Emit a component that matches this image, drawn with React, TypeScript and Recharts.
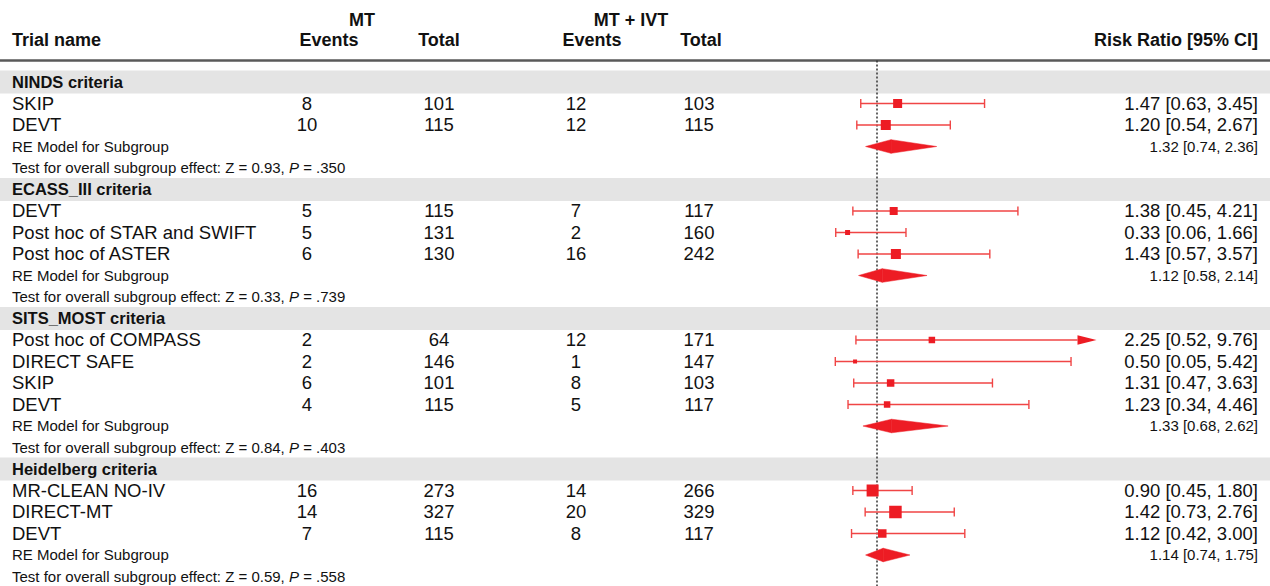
import React from 'react';
import { ComposedChart, XAxis, YAxis, Scatter, ReferenceLine, ReferenceArea } from 'recharts';

// subgroups and the trials inside them
const groupNames = ['NINDS criteria', 'ECASS_III criteria', 'SITS_MOST criteria', 'Heidelberg criteria'];
const studyGroup = [0, 0, 1, 1, 1, 2, 2, 2, 2, 3, 3, 3];
const studyNames = [
  'SKIP', 'DEVT',
  'DEVT', 'Post hoc of STAR and SWIFT', 'Post hoc of ASTER',
  'Post hoc of COMPASS', 'DIRECT SAFE', 'SKIP', 'DEVT',
  'MR-CLEAN NO-IV', 'DIRECT-MT', 'DEVT',
];
const mtEvents = [8, 10, 5, 5, 6, 2, 2, 6, 4, 16, 14, 7];
const mtTotal = [101, 115, 115, 131, 130, 64, 146, 101, 115, 273, 327, 115];
const ivtEvents = [12, 12, 7, 2, 16, 12, 1, 8, 5, 14, 20, 8];
const ivtTotal = [103, 115, 117, 160, 242, 171, 147, 103, 117, 266, 329, 117];
const rr = [1.47, 1.2, 1.38, 0.33, 1.43, 2.25, 0.5, 1.31, 1.23, 0.9, 1.42, 1.12];
const rrLow = [0.63, 0.54, 0.45, 0.06, 0.57, 0.52, 0.05, 0.47, 0.34, 0.45, 0.73, 0.42];
const rrHigh = [3.45, 2.67, 4.21, 1.66, 3.57, 9.76, 5.42, 3.63, 4.46, 1.8, 2.76, 3.0];
// relative study weight (largest = 1), sets the square size
const studyWeight = [0.72, 0.8, 0.64, 0.4, 0.8, 0.52, 0.32, 0.6, 0.52, 0.96, 1.0, 0.68];

// random-effects pooled estimate per subgroup
const pooledRR = [1.32, 1.12, 1.33, 1.14];
const pooledLow = [0.74, 0.58, 0.68, 0.74];
const pooledHigh = [2.36, 2.14, 2.62, 1.75];
const testZ = ['0.93', '0.33', '0.84', '0.59'];
const testP = ['.350', '.739', '.403', '.558'];

const W = 1270;
const H = 586;
const FONT = '"Liberation Sans", Arial, Helvetica, sans-serif';
const RED = '#ed1c24';
const CI_RED = '#f04545';

// 1 unit of RR = 43.9px with RR 0 at x=833; one table row = 21.5px, first row centred at y=82
const X_DOMAIN: [number, number] = [-833.1 / 43.9, (W - 833.1) / 43.9];
const Y_DOMAIN: [number, number] = [-82 / 21.5, (H - 82) / 21.5];
const X_LIMIT = 6; // intervals past this get an arrow
const MAX_SQUARE = 12.5;
const CAP = 4.5;
const DIAMOND_H = 6.8;
const ARROW_LEN = 19;

const HEAD_FS = 18;
const GROUP_FS = 16.5;
const ROW_FS = 18.5;
const SMALL_FS = 15;

const fmt = (v: number) => v.toFixed(2);
const ciText = (e: number, l: number, h: number) => `${fmt(e)} [${fmt(l)}, ${fmt(h)}]`;

// build the table layout row by row
type TableRow = { x: number; y: number; kind: string; i: number };
const tableRows: TableRow[] = [
  { x: 0, y: -2.9, kind: 'head1', i: 0 },
  { x: 0, y: -1.95, kind: 'head2', i: 0 },
];
const squares: { x: number; y: number; w: number }[] = [];
const cis: { lo: number; hi: number; y: number }[] = [];
const diamonds: { lo: number; est: number; hi: number; y: number }[] = [];
const groupRows: number[] = [];
let row = 0;
groupNames.forEach((_, g) => {
  groupRows.push(row);
  tableRows.push({ x: 0, y: row++, kind: 'group', i: g });
  studyGroup.forEach((sg, i) => {
    if (sg !== g) return;
    tableRows.push({ x: 0, y: row, kind: 'study', i });
    squares.push({ x: rr[i], y: row, w: studyWeight[i] });
    cis.push({ lo: rrLow[i], hi: rrHigh[i], y: row });
    row++;
  });
  diamonds.push({ lo: pooledLow[g], est: pooledRR[g], hi: pooledHigh[g], y: row });
  tableRows.push({ x: 0, y: row++, kind: 'pooled', i: g });
  tableRows.push({ x: 0, y: row++, kind: 'test', i: g });
});

const txt = (x: number, y: number, s: string | number, size: number, anchor = 'start', bold = false) => (
  <text x={x} y={y + size * 0.35} fontSize={size} fontFamily={FONT} fontWeight={bold ? 700 : 400}
    textAnchor={anchor} fill="#111">{s}</text>
);

const TableRowShape = (props: any) => {
  const { cy, payload } = props;
  const p = payload as TableRow;
  const i = p.i;
  if (p.kind === 'head1') {
    return (
      <g>
        {txt(362, cy, 'MT', HEAD_FS, 'middle', true)}
        {txt(631, cy, 'MT + IVT', HEAD_FS, 'middle', true)}
      </g>
    );
  }
  if (p.kind === 'head2') {
    return (
      <g>
        {txt(12, cy, 'Trial name', HEAD_FS, 'start', true)}
        {txt(329, cy, 'Events', HEAD_FS, 'middle', true)}
        {txt(439, cy, 'Total', HEAD_FS, 'middle', true)}
        {txt(592, cy, 'Events', HEAD_FS, 'middle', true)}
        {txt(701, cy, 'Total', HEAD_FS, 'middle', true)}
        {txt(1258, cy, 'Risk Ratio [95% CI]', HEAD_FS, 'end', true)}
      </g>
    );
  }
  if (p.kind === 'group') return txt(12, cy, groupNames[i], GROUP_FS, 'start', true);
  if (p.kind === 'study') {
    return (
      <g>
        {txt(12, cy, studyNames[i], ROW_FS)}
        {txt(307, cy, mtEvents[i], ROW_FS, 'middle')}
        {txt(439, cy, mtTotal[i], ROW_FS, 'middle')}
        {txt(576, cy, ivtEvents[i], ROW_FS, 'middle')}
        {txt(699, cy, ivtTotal[i], ROW_FS, 'middle')}
        {txt(1258, cy, ciText(rr[i], rrLow[i], rrHigh[i]), ROW_FS, 'end')}
      </g>
    );
  }
  if (p.kind === 'pooled') {
    return (
      <g>
        {txt(12, cy, 'RE Model for Subgroup', SMALL_FS)}
        {txt(1258, cy, ciText(pooledRR[i], pooledLow[i], pooledHigh[i]), SMALL_FS, 'end')}
      </g>
    );
  }
  return (
    <text x={12} y={cy + SMALL_FS * 0.35} fontSize={SMALL_FS} fontFamily={FONT} fill="#111">
      {`Test for overall subgroup effect: Z = ${testZ[i]}, `}
      <tspan fontStyle="italic">P</tspan>
      {` = ${testP[i]}`}
    </text>
  );
};

const SquareShape = (props: any) => {
  const { cx, cy, payload } = props;
  const s = payload.w * MAX_SQUARE;
  return <rect x={cx - s / 2} y={cy - s / 2} width={s} height={s} fill={RED} />;
};

// confidence interval with end caps, or an arrow when it runs past the axis limit
const ciShape = (clipped: boolean) => (props: any) => {
  const { x1, y1, x2 } = props;
  const end = clipped ? x2 - ARROW_LEN : x2;
  return (
    <g stroke={CI_RED} strokeWidth={1.4} fill="none">
      <line x1={x1} y1={y1} x2={end} y2={y1} />
      <line x1={x1} y1={y1 - CAP} x2={x1} y2={y1 + CAP} />
      {clipped ? (
        <polygon points={`${end},${y1 - 4.7} ${x2},${y1} ${end},${y1 + 4.7}`} fill={RED} stroke="none" />
      ) : (
        <line x1={x2} y1={y1 - CAP} x2={x2} y2={y1 + CAP} />
      )}
    </g>
  );
};

// half of a pooled-estimate diamond: the tall side sits at the estimate
const halfDiamond = (tallAtEnd: boolean) => (props: any) => {
  const { x1, y1, x2 } = props;
  const pts = tallAtEnd
    ? `${x1},${y1} ${x2},${y1 - DIAMOND_H} ${x2},${y1 + DIAMOND_H}`
    : `${x1},${y1 - DIAMOND_H} ${x2},${y1} ${x1},${y1 + DIAMOND_H}`;
  return <polygon points={pts} fill={RED} stroke={RED} strokeWidth={0.5} />;
};

export default function App() {
  return (
    <div style={{ position: 'absolute', left: 0, top: 0, background: '#fff' }}>
      <ComposedChart width={W} height={H} margin={{ top: 0, right: 0, bottom: 0, left: 0 }}>
        <XAxis type="number" dataKey="x" domain={X_DOMAIN} allowDataOverflow hide />
        <YAxis type="number" dataKey="y" domain={Y_DOMAIN} allowDataOverflow reversed hide />

        {groupRows.map((r) => (
          <ReferenceArea key={`band-${r}`} y1={r - 0.54} y2={r + 0.54} fill="#e4e4e4" fillOpacity={1} stroke="none" />
        ))}

        <ReferenceLine y={-1} stroke="#5a5a5a" strokeWidth={2.5} />
        <ReferenceLine
          segment={[{ x: 1, y: -1 }, { x: 1, y: Y_DOMAIN[1] }]}
          stroke="#333"
          strokeWidth={1.5}
          strokeDasharray="2 2"
        />

        {cis.map((c, k) => (
          <ReferenceLine
            key={`ci-${k}`}
            segment={[{ x: c.lo, y: c.y }, { x: Math.min(c.hi, X_LIMIT), y: c.y }]}
            shape={ciShape(c.hi > X_LIMIT)}
          />
        ))}

        {diamonds.flatMap((d, k) => [
          <ReferenceLine key={`dl-${k}`} segment={[{ x: d.lo, y: d.y }, { x: d.est, y: d.y }]} shape={halfDiamond(true)} />,
          <ReferenceLine key={`dr-${k}`} segment={[{ x: d.est, y: d.y }, { x: d.hi, y: d.y }]} shape={halfDiamond(false)} />,
        ])}

        <Scatter data={squares} shape={SquareShape} isAnimationActive={false} />
        <Scatter data={tableRows} shape={TableRowShape} isAnimationActive={false} />
      </ComposedChart>
    </div>
  );
}
